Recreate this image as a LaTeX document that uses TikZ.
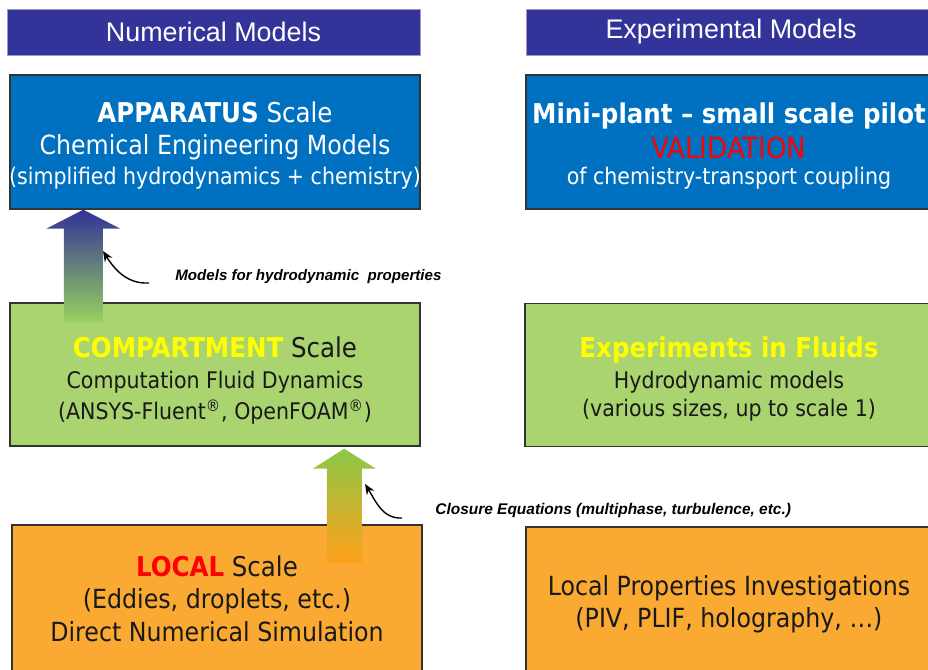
\documentclass[tikz,border=0pt]{standalone}
\usepackage{fontspec}
\setmainfont{DejaVu Sans Condensed}
\newfontfamily\hdrfont{Liberation Sans}
\usetikzlibrary{arrows.meta,positioning}
\definecolor{hdrblue}{RGB}{51,51,153}
\definecolor{appblue}{RGB}{0,112,192}
\definecolor{cmpgreen}{RGB}{169,212,112}
\definecolor{locorange}{RGB}{250,170,50}
\definecolor{hiyellow}{RGB}{255,255,0}
\definecolor{hired}{RGB}{255,0,0}
\definecolor{arrtop}{RGB}{50,50,150}
\definecolor{arrmid}{RGB}{145,185,195}
\definecolor{arrlight}{RGB}{152,210,95}
\definecolor{arrgreen}{RGB}{140,200,72}
\definecolor{arrorange}{RGB}{255,160,25}
\newcommand\bigsz{\fontsize{15.5}{18.2}\selectfont}
\newcommand\midsz{\fontsize{15}{18.2}\selectfont}
\newcommand\smallsz{\fontsize{13}{18.2}\selectfont}
\begin{document}
\begin{tikzpicture}[x=0.02cm,y=-0.02cm,
	hdr/.style={fill=hdrblue,draw=hdrblue!50,text=white,minimum width=8.26cm,minimum height=0.92cm,inner sep=0pt,font=\hdrfont\fontsize{15.3}{18}\selectfont},
	box/.style={draw=black!80,line width=0.8pt,minimum width=8.2cm,inner sep=0pt},
	boxtxt/.style={align=center,inner sep=0pt,font=\fontsize{13}{18.2}\selectfont},
	lbl/.style={inner sep=0pt,anchor=west,font=\hdrfont\bfseries\itshape\fontsize{8.6}{10}\selectfont},
	curvy/.style={line width=0.8pt,-{Stealth[length=6pt,width=5pt]}}]
	\useasboundingbox (0,0) rectangle (928,669);
	\clip (0,0) rectangle (928,669);
	\node[hdr] (numhdr) at (213.5,32) {Numerical Models};
	\node[hdr,minimum width=8.2cm] (exphdr) at (731,32) {Experimental Models};
	\node[box,fill=appblue,minimum height=2.68cm] (app) at (215,142) {};
	\node[boxtxt,text=white] (apptxt) at ([yshift=-0.08cm]app.center) {\bigsz\textbf{APPARATUS} Scale\\\midsz Chemical Engineering Models\\[-1.1pt]\smallsz(simplified hydrodynamics + chemistry)};
	\node[box,fill=appblue,minimum height=2.68cm,minimum width=8.12cm] (mini) at (729,142) {};
	\node[boxtxt,text=white] (minitxt) at ([yshift=-0.09cm]mini.center) {\bigsz\textbf{Mini-plant -- small scale pilot}\\[1.7pt]\fontsize{16.5}{18.2}\selectfont\textcolor{hired}{VALIDATION}\\[-3.4pt]\smallsz of chemistry-transport coupling};
	\node[box,fill=cmpgreen,minimum height=2.86cm] (cmp) at (215,374.5) {};
	\node[boxtxt,text=black!90] (cmptxt) at ([yshift=-0.12cm]cmp.center) {\bigsz\textbf{\textcolor{hiyellow}{COMPARTMENT}} Scale\\[-0.6pt]\smallsz Computation Fluid Dynamics\\[-0.6pt]\smallsz(ANSYS-Fluent\textsuperscript{®}, OpenFOAM\textsuperscript{®})};
	\node[box,fill=cmpgreen,minimum height=2.86cm,minimum width=8.16cm] (fluids) at (729,375) {};
	\node[boxtxt,text=black!90] (fluidstxt) at ([yshift=-0.09cm]fluids.center) {\bigsz\textbf{\textcolor{hiyellow}{Experiments in Fluids}}\\[-1.1pt]\smallsz Hydrodynamic models\\[-1.7pt]\smallsz(various sizes, up to scale 1)};
	\node[box,fill=locorange,minimum height=3.04cm] (loc) at (217,601) {};
	\node[boxtxt,text=black!90] (loctxt) at ([yshift=0.05cm]loc.center) {\bigsz\textbf{\textcolor{hired}{LOCAL}} Scale\\\midsz(Eddies, droplets, etc.)\\[0.6pt]\midsz Direct Numerical Simulation};
	\node[box,fill=locorange,minimum height=3.0cm,minimum width=8.12cm] (props) at (729,602) {};
	\node[boxtxt,text=black!90] (propstxt) at ([yshift=-0.04cm]props.center) {\midsz Local Properties Investigations\\\midsz(PIV, PLIF, holography, \dots)};
	\coordinate (tipA) at ([xshift=1.48cm]app.south west);
	\shade[top color=arrtop,middle color=arrmid,bottom color=arrlight] (tipA) -- ++(37,19) -- ++(-17.5,0) -- ++(0,94) -- ++(-39,0) -- ++(0,-94) -- ++(-17.5,0) -- cycle;
	\coordinate (tipB) at ([xshift=6.7cm,yshift=-0.04cm]cmp.south west);
	\shade[top color=arrgreen,bottom color=arrorange] (tipB) -- ++(31.5,20) -- ++(-14,0) -- ++(0,94) -- ++(-35,0) -- ++(0,-94) -- ++(-14,0) -- cycle;
	\node[lbl] (lblA) at (175,277) {Models for hydrodynamic\ \ properties};
	\coordinate (tailA) at (149,283);
	\coordinate (headA) at (103,251);
	\draw[curvy] (tailA) to[out=183,in=-58] (headA);
	\node[lbl,font=\hdrfont\bfseries\itshape\fontsize{8.8}{10}\selectfont] (lblB) at (435,510) {Closure Equations (multiphase, turbulence, etc.)};
	\coordinate (tailB) at (402,518);
	\coordinate (headB) at (365,484);
	\draw[curvy] (tailB) to[out=183,in=-58] (headB);
\end{tikzpicture}
\end{document}
